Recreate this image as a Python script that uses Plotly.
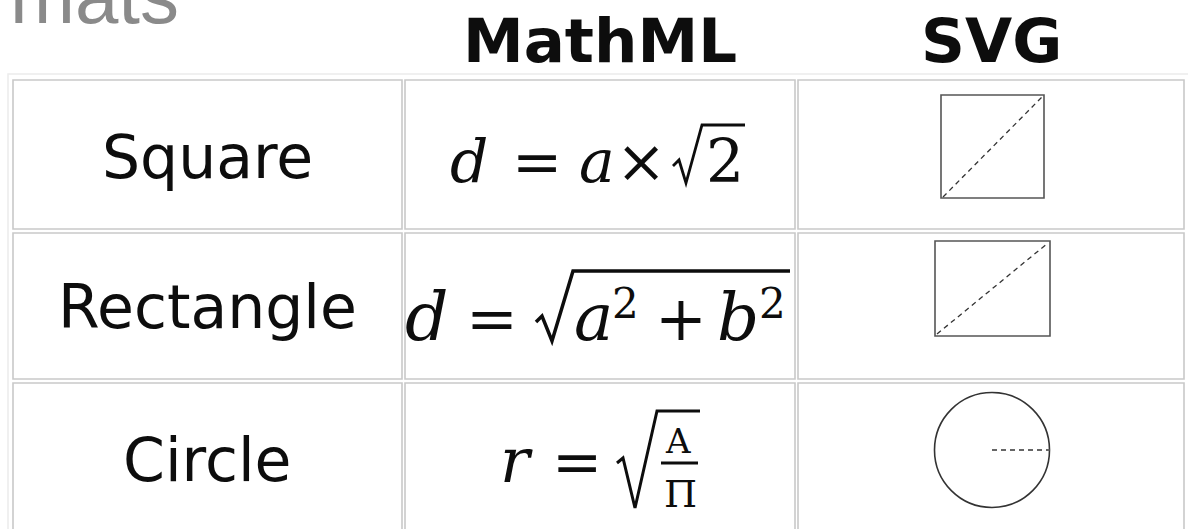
import plotly.graph_objects as go

W, H = 1188, 529

# ---------------- content (data) ----------------
title_text = "Formats"
column_headers = ["", "MathML", "SVG"]
row_labels = ["Square", "Rectangle", "Circle"]

# formula tokens per row (text, italic flag)
formula_tokens = [
    [("d", True), ("=", False), ("a", True), ("×", False), ("2", False)],
    [("d", True), ("=", False), ("a", True), ("2", False), ("+", False), ("b", True), ("2", False)],
    [("r", True), ("=", False), ("A", False), ("Π", False)],
]
svg_kinds = ["square", "rectangle", "circle"]

# ---------------- layout / style (window pixel coordinates) ----------------
col_edges = [(13, 402), (405, 795), (798, 1184)]
row_edges = [(80, 229), (233, 379), (383, 540)]
border_color = "#c9c9c9"
ink = "#0d0d0d"
MATH_FONT = "DejaVu Serif"
SANS = "DejaVu Sans"

# token placement per row: (x-center, baseline, size)
formula_pos = [
    [(469, 182, 60), (537, 182, 60), (597, 182, 60), (641, 182, 60), (725, 182, 60)],
    [(427, 340, 68), (492, 340, 62), (593, 340, 66), (625, 318, 42), (681, 340, 62),
     (738, 340, 66), (772, 318, 42)],
    [(516, 482, 62), (577, 482, 60), (678, 453, 34), (680, 507, 38)],
]
radicals = [
    ([(673, 166), (679, 160), (686, 183), (702, 125), (745, 125)], 2.8),
    ([(536, 322), (542, 316), (552, 341), (573, 271), (790, 271)], 3.5),
    ([(617, 463), (623, 458), (635, 508), (657, 411), (700, 411)], 3),
]
fraction_bars = [(661, 698, 463, 3)]

svg_geom = {
    "square": dict(x0=941, y0=95, x1=1044, y1=198, diag=((943, 197), (1043, 96))),
    "rectangle": dict(x0=935, y0=241, x1=1050, y1=336, diag=((937, 334), (1048, 243))),
    "circle": dict(cx=992, cy=450, r=57.5),
}


def mid_from_baseline(baseline, size, asc=0.928, desc=0.236):
    return baseline - (asc - desc) / 2 * size


fig = go.Figure()
fig.add_trace(go.Scatter(x=[1], y=[1], mode="markers",
                         marker=dict(opacity=0), hoverinfo="skip"))

shapes = []
annotations = []

# faint outer table border
shapes.append(dict(type="rect", xref="x", yref="y", x0=8, y0=74, x1=1195, y1=545,
                   line=dict(color="#ececec", width=1.5)))
# cell borders
for (y0, y1) in row_edges:
    for (x0, x1) in col_edges:
        shapes.append(dict(type="rect", xref="x", yref="y", x0=x0, y0=y0, x1=x1, y1=y1,
                           line=dict(color=border_color, width=1.6)))

# title (partially cut off at top of window)
annotations.append(dict(text=title_text, xref="paper", yref="paper",
                        x=181 / W,
                        y=1 - mid_from_baseline(23, 78, 0.905, 0.212) / H,
                        xanchor="right", yanchor="middle", showarrow=False,
                        font=dict(family="Liberation Sans", size=78, color="#8a8a8a")))

# headers
for (x0, x1), hdr in zip(col_edges, column_headers):
    if hdr:
        annotations.append(dict(text=f"<b>{hdr}</b>", xref="x", yref="y",
                                x=(x0 + x1) / 2, y=mid_from_baseline(62, 61),
                                xanchor="center", yanchor="middle", showarrow=False,
                                font=dict(family=SANS, size=61, color=ink)))

# row labels
label_baselines = [178, 328, 481]
for lab, bl in zip(row_labels, label_baselines):
    x0, x1 = col_edges[0]
    annotations.append(dict(text=lab, xref="x", yref="y",
                            x=(x0 + x1) / 2, y=mid_from_baseline(bl, 60),
                            xanchor="center", yanchor="middle", showarrow=False,
                            font=dict(family=SANS, size=60, color=ink)))

# formulas
for toks, poss in zip(formula_tokens, formula_pos):
    for (t, ital), (xc, bl, sz) in zip(toks, poss):
        txt = f"<i>{t}</i>" if ital else t
        annotations.append(dict(text=txt, xref="x", yref="y", x=xc, y=mid_from_baseline(bl, sz),
                                xanchor="center", yanchor="middle", showarrow=False,
                                font=dict(family=MATH_FONT, size=sz, color=ink)))

for pts, w in radicals:
    path = "M " + " L ".join(f"{x} {y}" for x, y in pts)
    shapes.append(dict(type="path", xref="x", yref="y", path=path,
                       line=dict(color=ink, width=w)))
for (xa, xb, yy, w) in fraction_bars:
    shapes.append(dict(type="line", xref="x", yref="y", x0=xa, x1=xb, y0=yy, y1=yy,
                       line=dict(color=ink, width=w)))

# SVG column drawings
for kind in svg_kinds:
    g = svg_geom[kind]
    if kind in ("square", "rectangle"):
        shapes.append(dict(type="rect", xref="x", yref="y", x0=g["x0"], y0=g["y0"],
                           x1=g["x1"], y1=g["y1"], line=dict(color="#555555", width=1.6)))
        (ax, ay), (bx, by) = g["diag"]
        shapes.append(dict(type="line", xref="x", yref="y", x0=ax, y0=ay, x1=bx, y1=by,
                           line=dict(color="#333333", width=1.3, dash="5px,4px")))
    else:
        cx, cy, r = g["cx"], g["cy"], g["r"]
        shapes.append(dict(type="circle", xref="x", yref="y", x0=cx - r, y0=cy - r,
                           x1=cx + r, y1=cy + r, line=dict(color="#333333", width=1.6)))
        shapes.append(dict(type="line", xref="x", yref="y", x0=cx, y0=cy, x1=cx + r, y1=cy,
                           line=dict(color="#666666", width=2, dash="5px,4px")))

fig.update_layout(
    width=W, height=H, margin=dict(l=0, r=0, t=0, b=0),
    paper_bgcolor="white", plot_bgcolor="white", showlegend=False,
    xaxis=dict(range=[0, W], visible=False, fixedrange=True),
    yaxis=dict(range=[H, 0], visible=False, fixedrange=True),
    shapes=shapes, annotations=annotations,
)

fig.write_html(
    "out.html",
    config={"displayModeBar": False},
    post_script="document.body.style.margin='0';document.body.style.overflow='hidden';",
)
